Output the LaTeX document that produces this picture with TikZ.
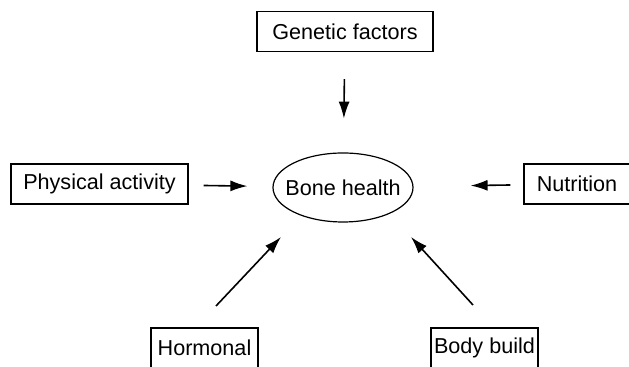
\documentclass[tikz,border=0pt]{standalone}
\usepackage{fontspec}
\setmainfont{Liberation Sans}
\usepackage{tikz}
\usetikzlibrary{arrows.meta, shapes.geometric}

\begin{document}
\begin{tikzpicture}[x=0.5pt, y=-0.5pt,
    factor/.style={draw, line width=0.6pt, inner sep=0pt, minimum height=20pt,
      font=\fontsize{10.8}{12}\selectfont},
    arr/.style={-{Latex[length=8.5pt, width=5.5pt]}, line width=0.8pt}]
  \clip (0,0) rectangle (629,367);
  \node[ellipse, inner xsep=-4pt, inner ysep=0pt, minimum width=70pt,
    minimum height=34.5pt, font=\fontsize{10.8}{12}\selectfont] (bone) at (343,187.5) {Bone health};
  \draw[line width=0.6pt] (bone.center) ellipse [x radius=70, y radius=34.5];
  \node[factor, minimum width=88pt] (genetic) at (345,31.5) {Genetic factors};
  \node[factor, minimum width=88.5pt] (physical) at (99.5,184) {Physical activity};
  \node[factor, minimum width=53pt] (nutrition) at (577,184) {Nutrition};
  \node[factor, minimum width=53.5pt] (hormonal) at (204.5,348) {Hormonal};
  \node[factor, minimum width=53.5pt] (bodybuild) at (484.5,348) {Body build};
  % influences
  \draw[arr, shorten <=13.5pt, shorten >=17pt] (genetic) -- (bone);
  \draw[arr, shorten <=7.5pt, shorten >=12.5pt] (physical) -- (bone);
  \draw[arr, shorten <=6.5pt, shorten >=28.5pt] (nutrition) -- (bone);
  \coordinate (hormonal-tail) at (216,306);
  \coordinate (hormonal-head) at (281,237);
  \coordinate (bodybuild-tail) at (473,305);
  \coordinate (bodybuild-head) at (411,237);
  \draw[arr] (hormonal-tail) -- (hormonal-head);
  \draw[arr] (bodybuild-tail) -- (bodybuild-head);
\end{tikzpicture}
\end{document}
